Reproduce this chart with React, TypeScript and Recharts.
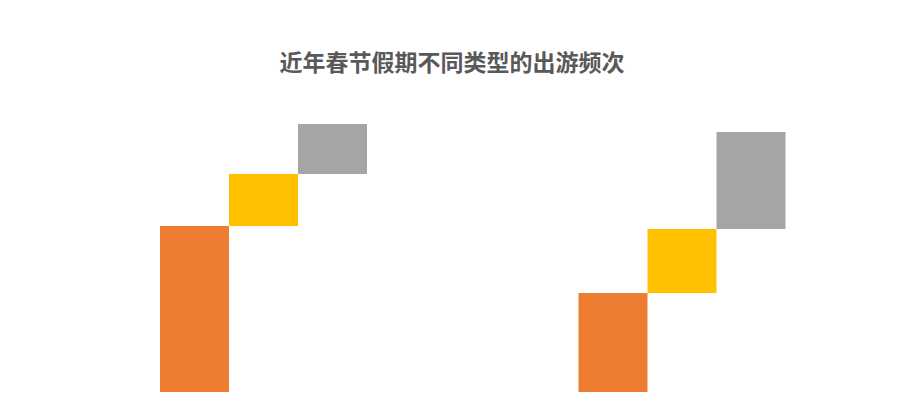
import { Bar, BarChart, XAxis, YAxis } from "recharts";

const groups = ["第一年", "第二年"];
const firstValues = [166, 99];
const secondValues = [52, 64];
const thirdValues = [50, 97];

const data = groups.map((name, i) => ({
  name,
  first: [0, firstValues[i]],
  second: [firstValues[i], firstValues[i] + secondValues[i]],
  third: [
    firstValues[i] + secondValues[i],
    firstValues[i] + secondValues[i] + thirdValues[i],
  ],
}));

const App = () => {
  return (
    <div
      style={{
        position: "absolute",
        left: 0,
        top: 0,
        width: 919,
        height: 400,
        background: "#fff",
      }}
    >
      <div
        style={{
          position: "absolute",
          left: 0,
          top: 44,
          width: 904,
          textAlign: "center",
          fontFamily: "'Noto Sans CJK SC', sans-serif",
          fontSize: 23,
          fontWeight: "bold",
          color: "#595959",
          lineHeight: "34px",
        }}
      >
        近年春节假期不同类型的出游频次
      </div>
      <BarChart
        width={919}
        height={400}
        data={data}
        margin={{ top: 92, right: 28, bottom: 8, left: 54 }}
        barGap={0}
        barSize={69}
      >
        <XAxis dataKey="name" hide />
        <YAxis hide domain={[0, 300]} />
        <Bar dataKey="first" fill="#ED7D31" isAnimationActive={false} />
        <Bar dataKey="second" fill="#FFC000" isAnimationActive={false} />
        <Bar dataKey="third" fill="#A5A5A5" isAnimationActive={false} />
      </BarChart>
    </div>
  );
};

export default App;
